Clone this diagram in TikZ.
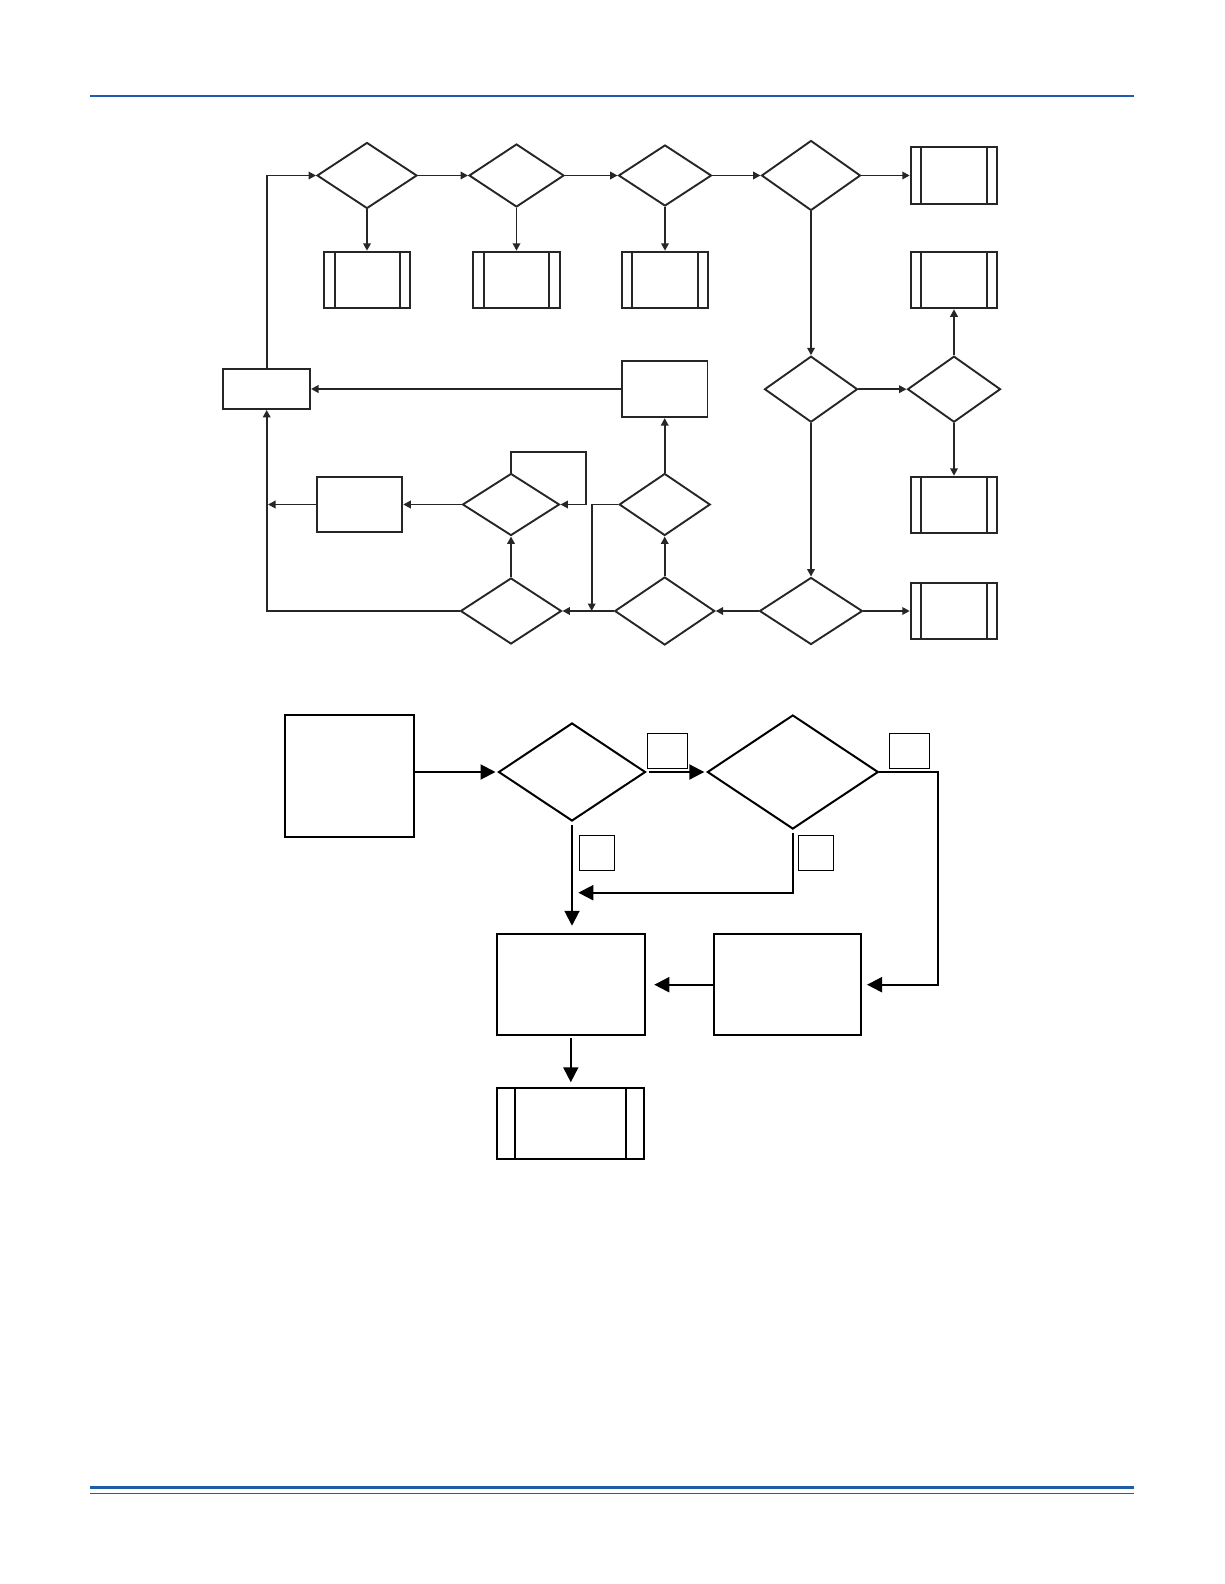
\documentclass[tikz,border=0pt]{standalone}
\usepackage{amsmath, amssymb}
\usepackage{xcolor}
\usepackage{tikz}
\usetikzlibrary{shapes.geometric,arrows.meta}
\definecolor{rulebl}{RGB}{33,92,168}
\definecolor{headbl}{RGB}{30,90,175}
\tikzset{
  dec/.style={draw, diamond, inner sep=0pt},
  blk/.style={draw, rectangle, inner sep=0pt},
  sub/.style={blk, path picture={
      \draw[line width=2pt] ([xshift=#1]path picture bounding box.north west) -- ([xshift=#1]path picture bounding box.south west);
      \draw[line width=2pt] ([xshift=-#1]path picture bounding box.north east) -- ([xshift=-#1]path picture bounding box.south east);}},
  sub/.default=10.5pt,
  tip/.style={-{Triangle[length=7.5pt,width=7.5pt]}},
  bigtip/.style={-{Triangle[length=15pt,width=15pt]}}
}
\begin{document}
\begin{tikzpicture}[x=1pt,y=-1pt]
  \useasboundingbox (0,0) rectangle (1224,1584);
  \draw[headbl, line width=2pt] (90,96.5) -- (1134,96.5);
  \draw[rulebl, line width=2.6pt] (90,1487.7) -- (1134,1487.7);
  \draw[rulebl, line width=1.5pt] (90,1493.3) -- (1134,1493.3);

  \begin{scope}[line width=1.9pt, color=black!85]
    \node[dec, minimum width=100pt, minimum height=66pt] (d1) at (367,175.5) {};
    \node[dec, minimum width=95pt, minimum height=63pt] (d2) at (516.5,175.5) {};
    \node[dec, minimum width=93pt, minimum height=61pt] (d3) at (665,175.5) {};
    \node[dec, minimum width=99pt, minimum height=70pt] (d4) at (811,175.5) {};
    \node[sub, minimum width=86pt, minimum height=56.6pt] (s1) at (367,280) {};
    \node[sub, minimum width=86.7pt, minimum height=56.6pt] (s2) at (516.5,280) {};
    \node[sub, minimum width=86.6pt, minimum height=56.6pt] (s3) at (665,280) {};
    \node[sub, minimum width=86.6pt, minimum height=56.7pt] (tr) at (954,175.5) {};
    \node[sub, minimum width=86.6pt, minimum height=56.6pt] (r2) at (954,280) {};
    \node[dec, minimum width=93pt, minimum height=66pt] (dm) at (811,389.2) {};
    \node[dec, minimum width=93pt, minimum height=66pt] (dr) at (954,389.2) {};
    \node[sub, minimum width=86.6pt, minimum height=56pt] (r3) at (954,504.7) {};
    \node[sub, minimum width=86.6pt, minimum height=56.6pt] (r4) at (954,611) {};
    \node[dec, minimum width=103pt, minimum height=67pt] (dbr) at (811,611) {};
    \node[dec, minimum width=100pt, minimum height=68pt] (d7) at (664.7,611) {};
    \node[dec, minimum width=101pt, minimum height=66pt] (d8) at (511,611) {};
    \node[dec, minimum width=97pt, minimum height=62pt] (d5) at (511,504.5) {};
    \node[dec, minimum width=91pt, minimum height=62pt] (d6) at (664.7,504.5) {};
    \node[blk, minimum width=86.7pt, minimum height=40pt] (lbox) at (266.7,389) {};
    \node[blk, minimum width=85.6pt, minimum height=56.3pt] (mbox) at (664.7,389) {};
    \node[blk, minimum width=85.6pt, minimum height=55.3pt] (wbox) at (359.5,504.5) {};
    \coordinate (lj) at (268,504.5);
    \coordinate (lp) at (586,451.7);
    \coordinate (jb) at (591.7,611);

    \draw[tip] (lbox.north) |- (d1.west);
    \draw[tip] (d1.east) -- (d2.west);
    \draw[tip] (d2.east) -- (d3.west);
    \draw[tip] (d3.east) -- (d4.west);
    \draw[tip] (d4.east) -- (tr.west);
    \draw[tip] (d1.south) -- (s1.north);
    \draw[tip] (d2.south) -- (s2.north);
    \draw[tip] (d3.south) -- (s3.north);
    \draw[tip] (d4.south) -- (dm.north);
    \draw[tip] (dm.east) -- (dr.west);
    \draw[tip] (dr.north) -- (r2.south);
    \draw[tip] (dr.south) -- (r3.north);
    \draw[tip] (dm.south) -- (dbr.north);
    \draw[tip] (dbr.east) -- (r4.west);
    \draw[tip] (dbr.west) -- (d7.east);
    \draw[tip] (d7.west) -- (d8.east);
    \draw[tip] (d7.north) -- (d6.south);
    \draw[tip] (d6.north) -- (mbox.south);
    \draw[tip] (mbox.west) -- (lbox.east);
    \draw[tip] (d8.north) -- (d5.south);
    \draw[tip] (d5.west) -- (wbox.east);
    \draw[tip] (wbox.west) -- (lj);
    \draw[tip] (d8.west) -| (lbox.south);
    \draw[tip] (d5.north) |- (lp) |- (d5.east);
    \draw[tip] (d6.west) -| (jb);
  \end{scope}

  \begin{scope}[line width=2pt]
    \node[blk, minimum width=129.3pt, minimum height=121.4pt] (start) at (349.3,776) {};
    \node[dec, minimum width=147pt, minimum height=98pt] (qa) at (572,772) {};
    \node[dec, minimum width=171pt, minimum height=114pt] (qb) at (792.8,772) {};
    \node[blk, line width=1.2pt, minimum width=40pt, minimum height=35pt] (ta) at (667.5,750.8) {};
    \node[blk, line width=1.2pt, minimum width=40pt, minimum height=35pt] (tb) at (909.3,750.8) {};
    \node[blk, line width=1.2pt, minimum width=35pt, minimum height=35pt] (tc) at (596.8,852.8) {};
    \node[blk, line width=1.2pt, minimum width=35pt, minimum height=35pt] (td) at (815.8,852.8) {};
    \node[blk, minimum width=148.3pt, minimum height=100.7pt] (act) at (570.8,984.7) {};
    \node[blk, minimum width=147pt, minimum height=100.7pt] (fix) at (787.5,984.7) {};
    \node[sub=18pt, line width=2pt, minimum width=147.3pt, minimum height=71.3pt] (done) at (570.8,1123.3) {};
    \coordinate (mb) at (578.3,892.7);
    \coordinate (rc) at (938.3,772);

    \draw[bigtip, shorten >=2pt] (start.east |- qa.west) -- (qa.west);
    \draw[bigtip, shorten <=2pt, shorten >=2pt] (qa.east) -- (qb.west);
    \draw[bigtip, shorten <=3pt, shorten >=7.6pt] (qa.south) -- (qa.south |- act.north);
    \draw[bigtip, shorten <=3pt] (qb.south) |- (mb);
    \draw[bigtip, shorten >=5pt] (qb.east) -- (rc) |- (fix.east);
    \draw[bigtip, shorten >=8.3pt] (fix.west) -- (act.east);
    \draw[bigtip, shorten <=1.7pt, shorten >=4.4pt] (act.south) -- (done.north);
  \end{scope}
\end{tikzpicture}
\end{document}
